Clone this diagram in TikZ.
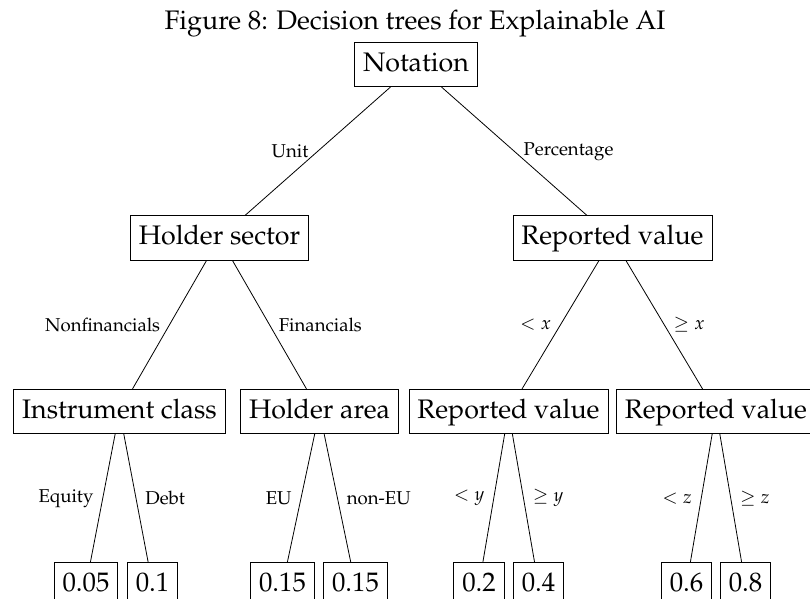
\documentclass[tikz,border=0pt]{standalone}
\usepackage[T1]{fontenc}
\usepackage{mathpazo}
\usepackage{tikz}
\usetikzlibrary{positioning}

\tikzset{
  split/.style={draw, inner xsep=4.2pt, inner ysep=4.6pt, text height=9.8pt, text depth=3.2pt, font=\fontsize{13.4}{16}\selectfont},
  branch/.style={inner sep=4.5pt, font=\fontsize{9.3}{11}\selectfont},
}

\begin{document}
\begin{tikzpicture}[x=0.5pt, y=-0.5pt]
\useasboundingbox (0, 0) rectangle (810, 599);
\node[anchor=base, font=\fontsize{13.4}{16}\selectfont] (title) at (415, 30) {Figure 8: Decision trees for Explainable AI};
\node[split] (notation) at (416, 64.5) {Notation};
\node[split] (hsector) at (219.5, 238) {Holder sector};
\node[split] (rvalue) at (612.5, 238) {Reported value};
\node[split] (iclass) at (119.5, 411.5) {Instrument class};
\node[split] (harea) at (319.5, 411.5) {Holder area};
\node[split] (rvlow) at (508.5, 411.5) {Reported value};
\node[split] (rvhigh) at (716, 411.5) {Reported value};
\node[split] (l1) at (86, 585) {0.05};
\node[split] (l2) at (152.5, 585) {0.1};
\node[split] (l3) at (282.5, 585) {0.15};
\node[split] (l4) at (355.5, 585) {0.15};
\node[split] (l5) at (479, 585) {0.2};
\node[split] (l6) at (538.5, 585) {0.4};
\node[split] (l7) at (686.5, 585) {0.6};
\node[split] (l8) at (745.5, 585) {0.8};
\draw (notation) -- (hsector) node[branch, midway, left] {Unit};
\draw (notation) -- (rvalue) node[branch, midway, right] {Percentage};
\draw (hsector) -- (iclass) node[branch, midway, left] {Nonfinancials};
\draw (hsector) -- (harea) node[branch, midway, right] {Financials};
\draw (rvalue) -- (rvlow) node[branch, midway, left] {$<x$};
\draw (rvalue) -- (rvhigh) node[branch, midway, right] {$\geq x$};
\draw (iclass) -- (l1) node[branch, midway, left] {Equity};
\draw (iclass) -- (l2) node[branch, midway, right] {Debt};
\draw (harea) -- (l3) node[branch, midway, left] {EU};
\draw (harea) -- (l4) node[branch, midway, right] {non-EU};
\draw (rvlow) -- (l5) node[branch, midway, left] {$<y$};
\draw (rvlow) -- (l6) node[branch, midway, right] {$\geq y$};
\draw (rvhigh) -- (l7) node[branch, midway, left] {$<z$};
\draw (rvhigh) -- (l8) node[branch, midway, right] {$\geq z$};
\end{tikzpicture}
\end{document}
